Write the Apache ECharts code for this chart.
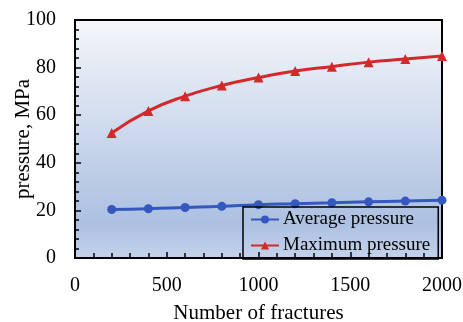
<!DOCTYPE html>
<html>
<head>
<meta charset="utf-8">
<script src="https://cdn.jsdelivr.net/npm/echarts@6/dist/echarts.min.js"></script>
<style>
  html, body { margin: 0; padding: 0; background: #fff; }
  #chart { width: 463px; height: 322px; }
</style>
</head>
<body>
<div id="chart"></div>
<script>
// data
const fractures = [200, 400, 600, 800, 1000, 1200, 1400, 1600, 1800, 2000];
const averagePressure = [20.4, 20.7, 21.2, 21.7, 22.4, 22.8, 23.2, 23.6, 23.9, 24.3];
const maximumPressure = [52.5, 61.8, 68.0, 72.5, 75.8, 78.6, 80.4, 82.3, 83.6, 84.9];

const font = 'Liberation Serif, Times New Roman, serif';

const chart = echarts.init(document.getElementById('chart'), null, { renderer: 'canvas' });

const pairs = (ys) => fractures.map((x, i) => [x, ys[i]]);

const axisCommon = {
    axisLine: { show: true, lineStyle: { color: '#000', width: 2 } },
    axisTick: { show: true, inside: true, length: 6, lineStyle: { color: '#000', width: 1.5 } },
    minorTick: { show: true, splitNumber: 5, length: 4, lineStyle: { color: '#000', width: 1.5 } },
    splitLine: { show: false },
    axisLabel: { color: '#000', fontFamily: font, fontSize: 20, formatter: (v) => String(v) },
    nameTextStyle: { color: '#000', fontFamily: font, fontSize: 21 },
    nameMoveOverlap: false
};

chart.setOption({
    animation: false,
    grid: {
        left: 75, top: 20, right: 21, bottom: 64,
        outerBoundsMode: 'none',
        containLabel: false,
        show: true,
        borderColor: '#000',
        borderWidth: 2,
        backgroundColor: new echarts.graphic.LinearGradient(0, 0, 0, 1, [
            { offset: 0, color: '#f5f7fa' },
            { offset: 0.85, color: '#acc0e1' },
            { offset: 1, color: '#c4d3ec' }
        ])
    },
    xAxis: {
        type: 'value',
        min: 0, max: 2000, interval: 500,
        name: 'Number of fractures',
        nameLocation: 'middle',
        nameGap: 45,
        ...axisCommon,
        axisLabel: { ...axisCommon.axisLabel, margin: 18 },
        minorTick: { ...axisCommon.minorTick, length: 5 }
    },
    yAxis: {
        type: 'value',
        min: 0, max: 100, interval: 20,
        name: 'pressure, MPa',
        nameLocation: 'middle',
        nameGap: 41,
        ...axisCommon,
        axisLabel: { ...axisCommon.axisLabel, margin: 19 }
    },
    legend: {
        orient: 'vertical',
        left: 243, top: 207,
        width: 198,
        padding: [2, 8, 3, 7],
        itemWidth: 28, itemHeight: 10,
        itemGap: 5,
        borderColor: '#000', borderWidth: 1.5,
        textStyle: { color: '#000', fontFamily: font, fontSize: 19, lineHeight: 21, padding: [0, 0, 0, -1] },
        data: ['Average pressure', 'Maximum pressure']
    },
    series: [
        {
            name: 'Average pressure',
            type: 'line',
            data: pairs(averagePressure),
            smooth: true,
            symbol: 'circle', symbolSize: 9,
            lineStyle: { color: '#3558bf', width: 3 },
            itemStyle: { color: '#3558bf' }
        },
        {
            name: 'Maximum pressure',
            type: 'line',
            data: pairs(maximumPressure),
            smooth: true,
            symbol: 'triangle', symbolSize: 10,
            lineStyle: { color: '#d5282c', width: 3 },
            itemStyle: { color: '#d5282c' }
        }
    ]
});
</script>
</body>
</html>
